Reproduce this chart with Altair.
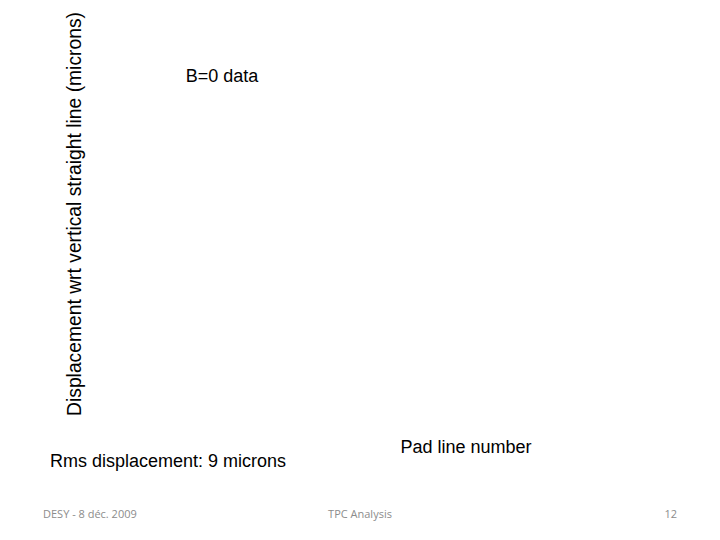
import altair as alt
import pandas as pd

y_title = ["Displacement wrt vertical straight line (microns)"]
panel_note = ["B=0 data"]
rms_note = ["Rms displacement: 9 microns"]
x_title = ["Pad line number"]
footer_left = ["DESY - 8 déc. 2009"]
footer_mid = ["TPC Analysis"]
footer_right = ["12"]

def layer(texts, x, y, size, color="black", align="center", angle=0, font="Liberation Sans"):
    df = pd.DataFrame({"t": texts})
    kw = dict(fontSize=size, color=color, align=align, baseline="middle", font=font)
    if angle:
        kw["angle"] = angle
    return alt.Chart(df).mark_text(**kw).encode(
        text="t:N", x=alt.value(x), y=alt.value(y)
    )

o = 8
chart = alt.layer(
    layer(y_title, 75 - o, 214 - o, 19.3, angle=270),
    layer(panel_note, 222 - o, 77 - o, 18),
    layer(rms_note, 168 - o, 462 - o, 18),
    layer(x_title, 466 - o, 448 - o, 18),
    layer(footer_left, 43 - o, 515 - o, 11, color="#8c8c8c", align="left", font="Open Sans"),
    layer(footer_mid, 360 - o, 515 - o, 11, color="#8c8c8c", font="Open Sans"),
    layer(footer_right, 677 - o, 515 - o, 11, color="#8c8c8c", align="right", font="Open Sans"),
).properties(
    width=704, height=524, autosize=alt.AutoSizeParams(type="none"), padding=0
).configure_view(stroke=None)

chart.save("out.html", embed_options={"renderer": "svg", "actions": False})
